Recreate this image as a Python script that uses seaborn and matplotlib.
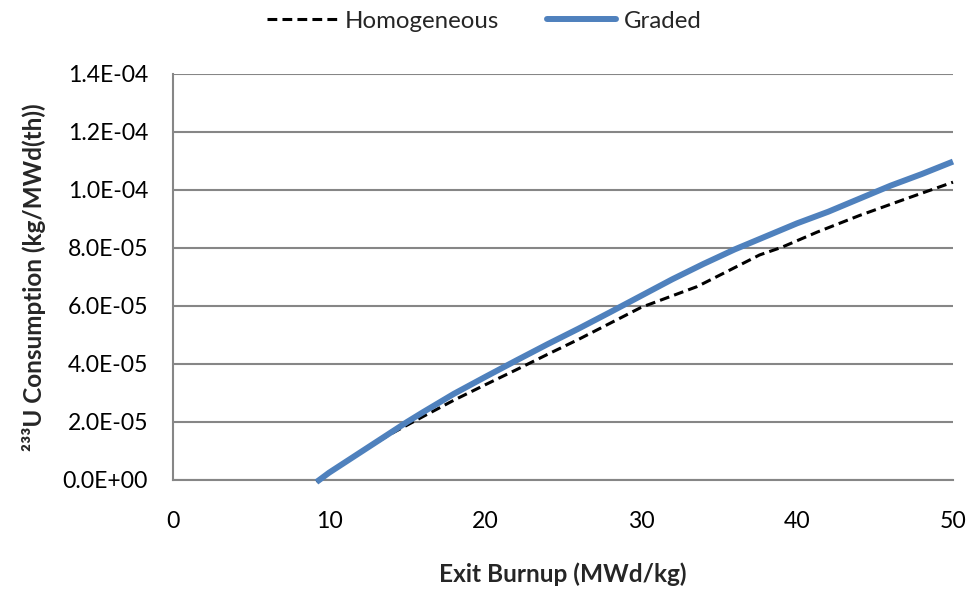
import matplotlib
matplotlib.use("Agg")
import matplotlib.pyplot as plt
from matplotlib.ticker import FuncFormatter, MultipleLocator
from matplotlib.lines import Line2D
import seaborn as sns
import pandas as pd

# Data (y in kg/MWd(th))
homog_x = [9.2, 10, 12, 14, 16, 18, 20, 22, 24, 26, 28, 30, 32, 33.6, 35.7, 37.6, 39, 41.3, 44, 47, 50]
homog_y = [-0.07e-5, 0.25e-5, 0.95e-5, 1.6e-5, 2.18e-5, 2.75e-5, 3.28e-5, 3.8e-5, 4.33e-5, 4.85e-5,
           5.4e-5, 5.95e-5, 6.35e-5, 6.67e-5, 7.24e-5, 7.76e-5, 8.02e-5, 8.55e-5, 9.12e-5, 9.7e-5, 10.27e-5]
graded_x = [9.2, 10, 12, 14, 15, 16, 18, 20, 22, 24, 26, 28, 30, 32, 34, 36, 38, 40, 42, 44, 46, 48, 50]
graded_y = [-0.07e-5, 0.25e-5, 0.95e-5, 1.65e-5, 2.0e-5, 2.33e-5, 2.97e-5, 3.55e-5, 4.12e-5, 4.68e-5,
            5.22e-5, 5.78e-5, 6.35e-5, 6.92e-5, 7.45e-5, 7.95e-5, 8.4e-5, 8.85e-5, 9.25e-5, 9.7e-5,
            10.15e-5, 10.55e-5, 10.98e-5]
series_names = ["Homogeneous", "Graded"]
x_ticks = [0, 10, 20, 30, 40, 50]

sns.set_theme(style="white")
plt.rcParams['font.family'] = ['Lato', 'DejaVu Sans']

fig = plt.figure(figsize=(9.69, 5.91), dpi=100)
ax = fig.add_axes([173/969, 1-480/591, (953-173)/969, (480-74)/591])

df_h = pd.DataFrame({"x": homog_x, "y": homog_y})
df_g = pd.DataFrame({"x": graded_x, "y": graded_y})

blue = "#4F81BD"
sns.lineplot(data=df_h, x="x", y="y", ax=ax, color="black", linewidth=2.2,
             sort=False, estimator=None, zorder=3)
ax.lines[-1].set_dashes((3.2, 1.7))
ax.lines[-1].set_clip_on(False)
sns.lineplot(data=df_g, x="x", y="y", ax=ax, color=blue, linewidth=4.3,
             sort=False, estimator=None, zorder=4)
ax.lines[-1].set_clip_on(False)
ax.lines[-1].set_solid_capstyle('butt')

ax.set_xlim(0, 50)
ax.set_ylim(0, 1.4e-4)
ax.set_xticks(x_ticks)
ax.yaxis.set_major_locator(MultipleLocator(2e-5))
ax.yaxis.set_major_formatter(FuncFormatter(lambda v, p: f"{v:.1E}"))
ax.grid(axis='y', color="#868686", linewidth=1.5)
ax.grid(axis='x', visible=False)
for s in ['top', 'right']:
    ax.spines[s].set_visible(False)
for s in ['left', 'bottom']:
    ax.spines[s].set_color("#868686")
    ax.spines[s].set_linewidth(1.5)
ax.tick_params(axis='both', length=0, labelsize=16.6, colors='black')
ax.tick_params(axis='y', pad=18)
ax.tick_params(axis='x', pad=22)

ax.set_xlabel("Exit Burnup (MWd/kg)", fontsize=17.6, fontweight='bold', labelpad=22)
ax.set_ylabel("\u00b2\u00b3\u00b3U Consumption (kg/MWd(th))", fontsize=17.5,
              fontweight='bold', labelpad=12)

handles = [Line2D([], [], color='black', linewidth=2.2, dashes=(3.2, 1.7)),
           Line2D([], [], color=blue, linewidth=4.3)]
fig.legend(handles, series_names, loc='center', bbox_to_anchor=(0.5, 1-21/591), ncol=2,
           frameon=False, fontsize=17.3, handlelength=2.9, handletextpad=0.3, columnspacing=2.0)

fig.savefig("out.png", dpi=100)
